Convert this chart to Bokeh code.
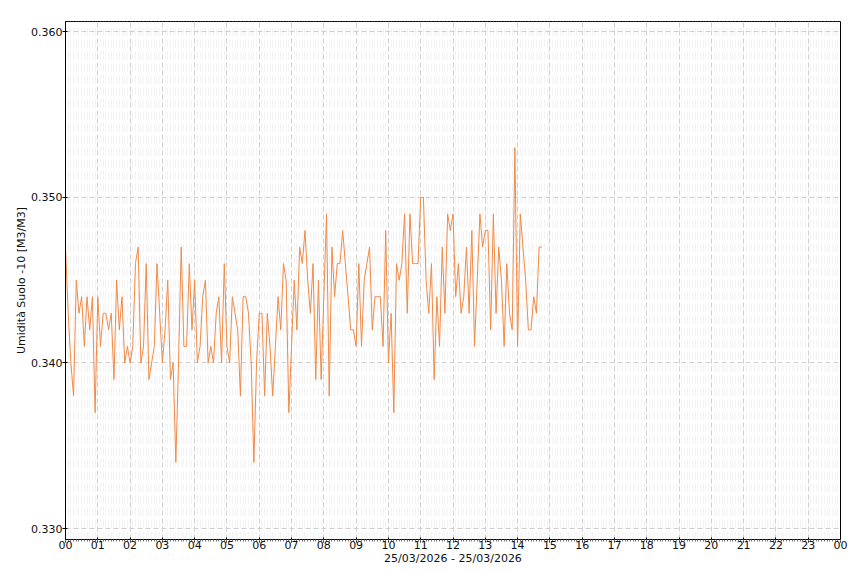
import numpy as np
from bokeh.plotting import figure
from bokeh.models import FixedTicker, Range1d, PrintfTickFormatter, ColumnDataSource
from bokeh.embed import file_html
from bokeh.resources import INLINE

# ---------------- data ----------------
date_label = "25/03/2026 - 25/03/2026"
y_label = "Umidità Suolo -10 [M3/M3]"
hour_ticks = list(range(25))
hour_labels = ["00", "01", "02", "03", "04", "05", "06", "07", "08", "09", "10", "11",
               "12", "13", "14", "15", "16", "17", "18", "19", "20", "21", "22", "23", "00"]
y_ticks = [0.330, 0.340, 0.350, 0.360]
step_minutes = 5  # one reading every 5 minutes, from 00:00

soil_moisture = [
    0.347, 0.343, 0.340, 0.338, 0.345, 0.343, 0.344, 0.341, 0.344, 0.342,
    0.344, 0.337, 0.344, 0.341, 0.343, 0.343, 0.342, 0.343, 0.339, 0.345,
    0.342, 0.344, 0.340, 0.341, 0.340, 0.341, 0.346, 0.347, 0.340, 0.341,
    0.346, 0.339, 0.340, 0.341, 0.346, 0.343, 0.340, 0.342, 0.345, 0.339,
    0.340, 0.334, 0.340, 0.347, 0.341, 0.341, 0.346, 0.342, 0.345, 0.340,
    0.341, 0.344, 0.345, 0.340, 0.341, 0.340, 0.343, 0.344, 0.340, 0.346,
    0.341, 0.340, 0.344, 0.343, 0.342, 0.338, 0.344, 0.344, 0.343, 0.340,
    0.334, 0.340, 0.343, 0.343, 0.338, 0.343, 0.341, 0.338, 0.341, 0.344,
    0.342, 0.346, 0.345, 0.337, 0.341, 0.345, 0.342, 0.347, 0.346, 0.348,
    0.345, 0.343, 0.346, 0.339, 0.345, 0.339, 0.344, 0.349, 0.338, 0.347,
    0.344, 0.346, 0.346, 0.348, 0.346, 0.344, 0.342, 0.342, 0.341, 0.346,
    0.341, 0.345, 0.346, 0.347, 0.342, 0.344, 0.344, 0.344, 0.341, 0.348,
    0.340, 0.343, 0.337, 0.346, 0.345, 0.346, 0.349, 0.343, 0.349, 0.346,
    0.346, 0.346, 0.350, 0.350, 0.345, 0.343, 0.346, 0.339, 0.344, 0.341,
    0.347, 0.343, 0.349, 0.348, 0.349, 0.344, 0.346, 0.343, 0.344, 0.347,
    0.343, 0.348, 0.341, 0.345, 0.349, 0.347, 0.348, 0.348, 0.342, 0.349,
    0.343, 0.347, 0.345, 0.341, 0.346, 0.343, 0.342, 0.353, 0.341, 0.349,
    0.347, 0.345, 0.342, 0.342, 0.344, 0.343, 0.347, 0.347,
]

hours = [i * step_minutes / 60.0 for i in range(len(soil_moisture))]
src = ColumnDataSource(dict(x=hours, y=soil_moisture))

# ---------------- figure ----------------
p = figure(width=852, height=568, output_backend="svg", toolbar_location=None,
           x_range=Range1d(0, 24), y_range=Range1d(0.32934, 0.36062),
           min_border_left=65, min_border_top=21, min_border_right=12, min_border_bottom=29)
p.outline_line_color = "black"
p.outline_line_width = 1
p.background_fill_color = "white"
p.border_fill_color = "white"

minor_positions = [k / 12.0 for k in range(24 * 12 + 1)]
xt = FixedTicker(ticks=hour_ticks, minor_ticks=minor_positions)
yt = FixedTicker(ticks=y_ticks)
p.xaxis.ticker = xt
p.xgrid.ticker = xt
p.yaxis.ticker = yt
p.ygrid.ticker = yt
p.xaxis.major_label_overrides = {t: lab for t, lab in zip(hour_ticks, hour_labels)}
p.yaxis.formatter = PrintfTickFormatter(format="%.3f")

for ax in (p.xaxis[0], p.yaxis[0]):
    ax.axis_line_color = "black"
    ax.major_tick_line_color = "black"
    ax.major_tick_in = 2
    ax.major_tick_out = 3
    ax.major_label_text_font = "DejaVu Sans"
    ax.major_label_text_font_size = "11px"
    ax.major_label_text_color = "#111111"
    ax.axis_label_text_font = "DejaVu Sans"
    ax.axis_label_text_font_size = "11px"
    ax.axis_label_text_font_style = "normal"
    ax.axis_label_text_color = "#111111"

p.xaxis.minor_tick_in = 0
p.xaxis.minor_tick_out = 2
p.xaxis.minor_tick_line_color = "#777777"
p.yaxis.minor_tick_out = 0
p.yaxis.minor_tick_in = 0
p.xaxis.major_label_standoff = -2
p.xaxis.axis_label_standoff = 0
p.yaxis.major_label_standoff = 0
p.yaxis.axis_label_standoff = 0
p.xaxis.axis_label = date_label
p.yaxis.axis_label = y_label

p.xgrid.grid_line_color = "#d0d0d0"
p.xgrid.grid_line_dash = "5 3"
p.xgrid.minor_grid_line_color = "#f3f3f3"
p.xgrid.minor_grid_line_dash = "8 4"
p.ygrid.grid_line_color = "#d0d0d0"
p.ygrid.grid_line_dash = "5 3"

p.line("x", "y", source=src, line_color="#f08a46", line_width=1)

open("out.html", "w").write(file_html(p, INLINE))
